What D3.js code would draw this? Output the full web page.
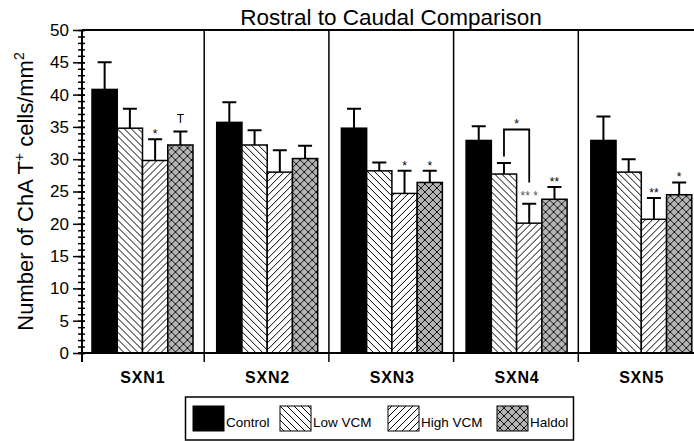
<!DOCTYPE html>
<html>
<head>
<meta charset="utf-8">
<script src="https://cdn.jsdelivr.net/npm/d3@7"></script>
<style>
  body { margin: 0; background: #fff; }
  text { font-family: Arial, "Liberation Sans", sans-serif; }
</style>
</head>
<body>
<svg id="chart" width="694" height="441"></svg>
<script>
// data
let groups = ["SXN1", "SXN2", "SXN3", "SXN4", "SXN5"];
let series = ["Control", "Low VCM", "High VCM", "Haldol"];
let means = [
  [40.8, 34.8, 29.8, 32.2],
  [35.7, 32.2, 28.0, 30.1],
  [34.8, 28.2, 24.7, 26.4],
  [32.9, 27.7, 20.1, 23.8],
  [32.9, 28.0, 20.7, 24.5]
];
let errTops = [
  [45.0, 37.8, 33.1, 34.3],
  [38.8, 34.5, 31.4, 32.1],
  [37.8, 29.5, 28.2, 28.2],
  [35.1, 29.4, 23.1, 25.7],
  [36.6, 30.0, 24.0, 26.4]
];
let yTicks = [0, 5, 10, 15, 20, 25, 30, 35, 40, 45, 50];
// significance marks: group, series, text
let marks = [
  {g: "SXN1", s: "High VCM", t: "*"},
  {g: "SXN1", s: "Haldol", t: "T"},
  {g: "SXN3", s: "High VCM", t: "*"},
  {g: "SXN3", s: "Haldol", t: "*"},
  {g: "SXN4", s: "High VCM", t: "** *"},
  {g: "SXN4", s: "Haldol", t: "**"},
  {g: "SXN5", s: "High VCM", t: "**"},
  {g: "SXN5", s: "Haldol", t: "*"}
];
// bracket between Low and High VCM in SXN4
let brackets = [
  {g: "SXN4", a: "Low VCM", b: "High VCM", top: 34.6, endA: 30.4, endB: 26.4, t: "*"}
];

let svg = d3.select("#chart");
let plotLeft = 82, plotTop = 30, plotBottom = 353;

let y = d3.scaleLinear().domain([0, 50]).range([plotBottom, plotTop]);
let x0 = d3.scaleBand().domain(groups).range([79.5, 703]);
let x1 = d3.scaleBand().domain(series).range([12.5, 113.5]);

// patterns
let defs = svg.append("defs");
let low = defs.append("pattern").attr("id", "low")
  .attr("patternUnits", "userSpaceOnUse").attr("width", 7).attr("height", 7);
low.append("rect").attr("width", 7).attr("height", 7).attr("fill", "#fff");
low.append("path").attr("d", "M-1,-1L8,8M-1,6L1,8M6,-1L8,1")
  .attr("stroke", "#000").attr("stroke-width", 1);

let high = defs.append("pattern").attr("id", "high")
  .attr("patternUnits", "userSpaceOnUse").attr("width", 7).attr("height", 7);
high.append("rect").attr("width", 7).attr("height", 7).attr("fill", "#fff");
high.append("path").attr("d", "M-1,8L8,-1M-1,1L1,-1M6,8L8,6")
  .attr("stroke", "#000").attr("stroke-width", 1);

let hal = defs.append("pattern").attr("id", "hal")
  .attr("patternUnits", "userSpaceOnUse").attr("width", 8).attr("height", 8);
hal.append("rect").attr("width", 8).attr("height", 8).attr("fill", "#b4b4b4");
hal.append("path").attr("d", "M-1,-1L9,9M-1,9L9,-1")
  .attr("stroke", "#000").attr("stroke-width", 0.9);

let fills = {"Control": "#000", "Low VCM": "url(#low)", "High VCM": "url(#high)", "Haldol": "url(#hal)"};

// title
svg.append("text").attr("x", 391).attr("y", 25).attr("text-anchor", "middle")
  .attr("font-size", 22.5).text("Rostral to Caudal Comparison");

// y label
let yl = svg.append("text").attr("transform", "translate(33," + (plotTop + plotBottom) / 2 + ") rotate(-90)")
  .attr("text-anchor", "middle").attr("font-size", 22);
yl.append("tspan").text("Number of ChA T");
yl.append("tspan").attr("dy", -9).attr("font-size", 14).text("+");
yl.append("tspan").attr("dy", 9).text(" cells/mm");
yl.append("tspan").attr("dy", -9).attr("font-size", 14).text("2");

// bars
let gBars = svg.append("g");
groups.forEach((g, gi) => {
  let gg = gBars.append("g").attr("transform", "translate(" + x0(g) + ",0)");
  gg.selectAll("rect").data(series).enter().append("rect")
    .attr("x", s => x1(s))
    .attr("y", (s, si) => y(means[gi][si]))
    .attr("width", x1.bandwidth())
    .attr("height", (s, si) => y(0) - y(means[gi][si]))
    .attr("fill", s => fills[s])
    .attr("stroke", "#000").attr("stroke-width", 1.5);
  // error bars
  gg.selectAll(".err").data(series).enter().append("path")
    .attr("class", "err")
    .attr("d", (s, si) => {
      let cx = x1(s) + x1.bandwidth() / 2;
      return "M" + cx + "," + y(means[gi][si]) + "V" + y(errTops[gi][si]) +
        "M" + (cx - 7) + "," + y(errTops[gi][si]) + "H" + (cx + 7);
    })
    .attr("stroke", "#000").attr("stroke-width", 2).attr("fill", "none");
});

// significance marks
marks.forEach(m => {
  let gi = groups.indexOf(m.g), si = series.indexOf(m.s);
  let cx = x0(m.g) + x1(m.s) + x1.bandwidth() / 2;
  let isT = m.t === "T";
  svg.append("text").attr("x", cx)
    .attr("y", y(errTops[gi][si]) + (isT ? -8 : (m.t === "** *" ? -4 : -1)))
    .attr("text-anchor", "middle")
    .attr("font-size", 12)
    .attr("fill", m.t === "** *" ? "#555" : "#000")
    .text(m.t);
});

brackets.forEach(b => {
  let xa = x0(b.g) + x1(b.a) + x1.bandwidth() / 2;
  let xb = x0(b.g) + x1(b.b) + x1.bandwidth() / 2;
  svg.append("path")
    .attr("d", "M" + xa + "," + y(b.endA) + "V" + y(b.top) + "H" + xb + "V" + y(b.endB))
    .attr("stroke", "#000").attr("stroke-width", 1.8).attr("fill", "none");
  svg.append("text").attr("x", (xa + xb) / 2).attr("y", y(b.top) - 1)
    .attr("text-anchor", "middle").attr("font-size", 12).text(b.t);
});

// frame: top line, separators
svg.append("line").attr("x1", plotLeft).attr("x2", 694).attr("y1", plotTop).attr("y2", plotTop)
  .attr("stroke", "#000").attr("stroke-width", 2);
svg.selectAll(".sep").data(groups.slice(1)).enter().append("line")
  .attr("x1", g => x0(g)).attr("x2", g => x0(g))
  .attr("y1", plotTop).attr("y2", 362)
  .attr("stroke", "#000").attr("stroke-width", 1.5);

// bottom axis line and left axis line
svg.append("line").attr("x1", 78).attr("x2", 694).attr("y1", plotBottom).attr("y2", plotBottom)
  .attr("stroke", "#000").attr("stroke-width", 2);
svg.append("line").attr("x1", plotLeft).attr("x2", plotLeft).attr("y1", plotTop).attr("y2", 362)
  .attr("stroke", "#000").attr("stroke-width", 2);

// y axis ticks
let yMajor = d3.axisLeft(y).tickValues(yTicks).tickSize(12).tickPadding(4);
let yMinor = d3.axisLeft(y).tickValues(d3.range(0, 51)).tickSize(7).tickFormat("");
let gy2 = svg.append("g").attr("transform", "translate(" + (plotLeft + 3) + ",0)").call(yMinor);
let gy = svg.append("g").attr("transform", "translate(" + (plotLeft + 3) + ",0)").call(yMajor);
[gy, gy2].forEach(a => {
  a.select(".domain").remove();
  a.selectAll("line").attr("stroke", "#000").attr("stroke-width", 1.5);
});
gy.selectAll("text").attr("font-size", 17).attr("fill", "#000")
  .attr("font-family", "Arial, 'Liberation Sans', sans-serif");

// x category labels
svg.selectAll(".xl").data(groups).enter().append("text")
  .attr("x", g => x0(g) + x0.bandwidth() / 2 + 1)
  .attr("y", 383)
  .attr("text-anchor", "middle")
  .attr("font-size", 16).attr("font-weight", "bold")
  .attr("letter-spacing", 0.8)
  .text(g => g);

// legend
let lg = svg.append("g");
lg.append("rect").attr("x", 185.5).attr("y", 397).attr("width", 388).attr("height", 43)
  .attr("fill", "#fff").attr("stroke", "#000").attr("stroke-width", 1.5);
let legX = [193, 280, 388, 497];
series.forEach((s, i) => {
  lg.append("rect").attr("x", legX[i]).attr("y", 406).attr("width", 31).attr("height", 25)
    .attr("fill", fills[s]).attr("stroke", "#000").attr("stroke-width", 1);
  lg.append("text").attr("x", legX[i] + 33).attr("y", 427)
    .attr("font-size", 13.5).text(s);
});
</script>
</body>
</html>
